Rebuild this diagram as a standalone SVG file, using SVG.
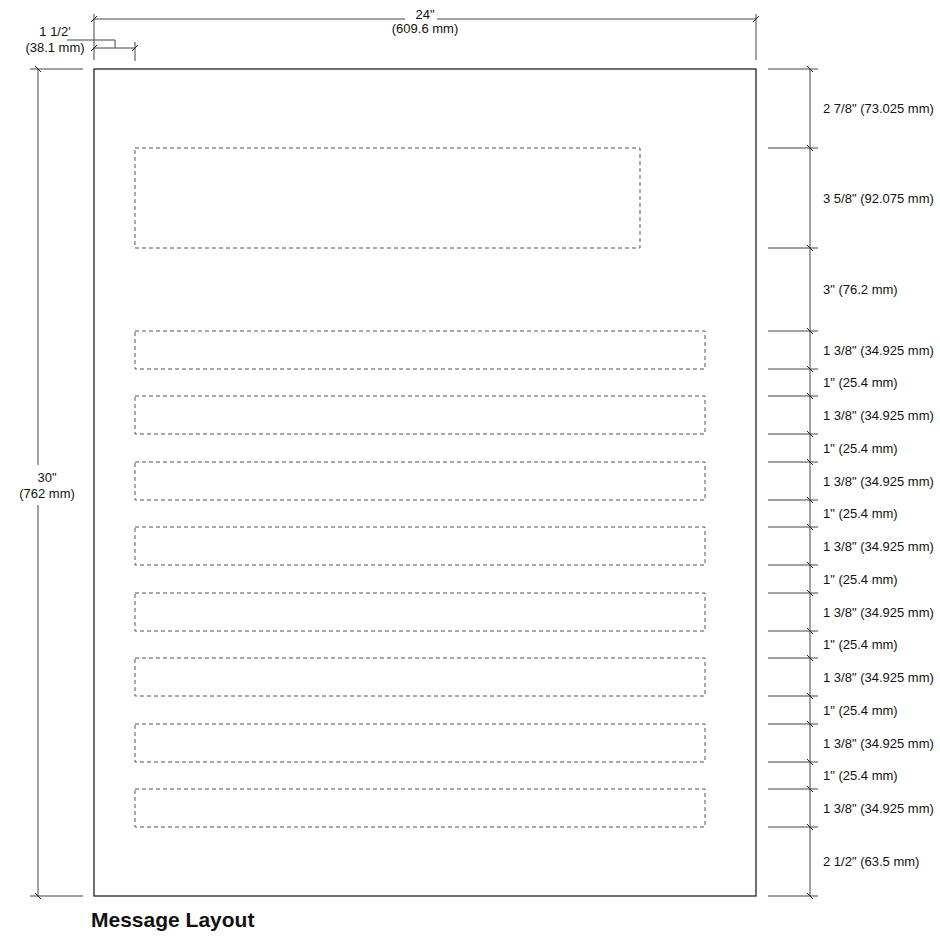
<svg xmlns="http://www.w3.org/2000/svg" width="940" height="936" viewBox="0 0 940 936">
<style>
text{font-family:"Liberation Sans",Arial,sans-serif;font-size:13px;fill:#111}
.page{fill:#fff;stroke:#222;stroke-width:1.3}
.box{fill:none;stroke:#555;stroke-width:1;stroke-dasharray:4 3}
.dim{fill:none;stroke:#444;stroke-width:1}
.tick{fill:none;stroke:#222;stroke-width:1}
.title{font-size:21px;font-weight:bold}
.mid{text-anchor:middle}
</style>
<rect width="940" height="936" fill="#fff"/>
<g id="page"><rect class="page" x="94" y="69" width="662" height="827"/></g>
<g id="header-box"><rect class="box" x="135" y="148" width="505" height="100"/></g>
<g id="line-1"><rect class="box" x="135" y="331" width="570" height="38"/></g>
<g id="line-2"><rect class="box" x="135" y="396" width="570" height="38"/></g>
<g id="line-3"><rect class="box" x="135" y="462" width="570" height="38"/></g>
<g id="line-4"><rect class="box" x="135" y="527" width="570" height="38"/></g>
<g id="line-5"><rect class="box" x="135" y="593" width="570" height="38"/></g>
<g id="line-6"><rect class="box" x="135" y="658" width="570" height="38"/></g>
<g id="line-7"><rect class="box" x="135" y="724" width="570" height="38"/></g>
<g id="line-8"><rect class="box" x="135" y="789" width="570" height="38"/></g>
<g id="dimensions">
<!-- top width -->
<path class="dim" d="M94 14V60M756 14V60M94 19H405M437 19H756"/>
<path class="tick" d="M91 22L97 16M753 22L759 16"/>
<text class="mid" x="425" y="19">24"</text>
<text class="mid" x="425" y="33">(609.6 mm)</text>
<!-- margin 1 1/2 -->
<path class="dim" d="M94 48H135M135 42V61M67 40H115V48"/>
<path class="tick" d="M91 51L97 45M132 51L138 45"/>
<text class="mid" x="55" y="36">1 1/2'</text>
<text class="mid" x="55" y="52">(38.1 mm)</text>
<!-- left height -->
<path class="dim" d="M30 69H83M30 896H83M38 69V465M38 505V896"/>
<path class="tick" d="M35 66L41 72M35 893L41 899"/>
<text class="mid" x="47" y="482">30"</text>
<text class="mid" x="47" y="498">(762 mm)</text>
<!-- right chain -->
<path class="dim" d="M810 69V896M768 69H818M768 148H818M768 248H818M768 331H818M768 369H818M768 396H818M768 434H818M768 462H818M768 500H818M768 527H818M768 565H818M768 593H818M768 631H818M768 658H818M768 696H818M768 724H818M768 762H818M768 789H818M768 827H818M768 896H818"/>
<path class="tick" d="M807 66l6 6M807 145l6 6M807 245l6 6M807 328l6 6M807 366l6 6M807 393l6 6M807 431l6 6M807 459l6 6M807 497l6 6M807 524l6 6M807 562l6 6M807 590l6 6M807 628l6 6M807 655l6 6M807 693l6 6M807 721l6 6M807 759l6 6M807 786l6 6M807 824l6 6M807 893l6 6"/>
<text x="823" y="113">2 7/8" (73.025 mm)</text>
<text x="823" y="202.5">3 5/8" (92.075 mm)</text>
<text x="823" y="294">3" (76.2 mm)</text>
<text x="823" y="354.5">1 3/8" (34.925 mm)</text>
<text x="823" y="387">1" (25.4 mm)</text>
<text x="823" y="419.5">1 3/8" (34.925 mm)</text>
<text x="823" y="452.5">1" (25.4 mm)</text>
<text x="823" y="485.5">1 3/8" (34.925 mm)</text>
<text x="823" y="518">1" (25.4 mm)</text>
<text x="823" y="550.5">1 3/8" (34.925 mm)</text>
<text x="823" y="583.5">1" (25.4 mm)</text>
<text x="823" y="616.5">1 3/8" (34.925 mm)</text>
<text x="823" y="649">1" (25.4 mm)</text>
<text x="823" y="681.5">1 3/8" (34.925 mm)</text>
<text x="823" y="714.5">1" (25.4 mm)</text>
<text x="823" y="747.5">1 3/8" (34.925 mm)</text>
<text x="823" y="780">1" (25.4 mm)</text>
<text x="823" y="812.5">1 3/8" (34.925 mm)</text>
<text x="823" y="866">2 1/2" (63.5 mm)</text>
</g>
<text class="title" x="91" y="927">Message Layout</text>
</svg>
